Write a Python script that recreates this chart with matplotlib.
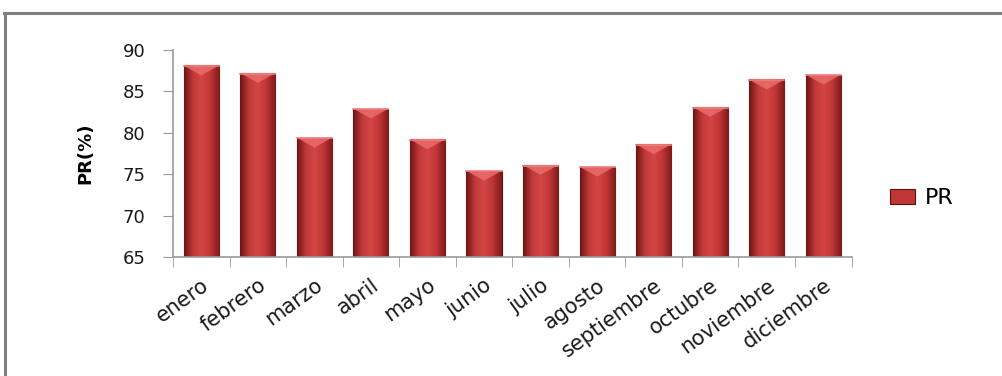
import numpy as np
import matplotlib.pyplot as plt
from matplotlib.lines import Line2D
from matplotlib.colors import LinearSegmentedColormap

# monthly PR values (%)
months = ['enero', 'febrero', 'marzo', 'abril', 'mayo', 'junio',
          'julio', 'agosto', 'septiembre', 'octubre', 'noviembre', 'diciembre']
pr = [88.1, 87.2, 79.4, 82.9, 79.2, 75.4, 76.1, 75.9, 78.6, 83.1, 86.4, 87.0]
yticks = [65, 70, 75, 80, 85, 90]

plt.rcParams['font.family'] = ['DejaVu Sans']

fig = plt.figure(figsize=(10.03, 3.76), dpi=100)
ax = fig.add_axes([0.1725, 0.3165, 0.6765, 0.5515])

x = np.arange(len(months))
bars = ax.bar(x, pr, width=0.62, color='#c03738', edgecolor='#5e1010',
              linewidth=0.8, label='PR', zorder=2)

# cylinder-like shading across each bar
shade = LinearSegmentedColormap.from_list(
    'shade', ['#6e1515', '#c23a3a', '#d44545', '#bf3535', '#7e1a1a'])
grad = np.linspace(0, 1, 64).reshape(1, -1)
for b in bars:
    x0, w, h = b.get_x(), b.get_width(), b.get_height()
    im = ax.imshow(grad, cmap=shade, aspect='auto', zorder=2.5,
                   extent=[x0, x0 + w, 65, h], interpolation='bicubic')
    im.set_clip_path(b)
    # lighter wedge at the top
    ax.fill([x0 + 0.02, x0 + w - 0.02, x0 + w / 2], [h - 0.1, h - 0.1, h - 1.2],
            color='#ea6c6c', alpha=0.85, zorder=3, lw=0)
    ax.plot([x0, x0 + w], [h - 0.08, h - 0.08], color='#f08080', lw=1.2,
            zorder=3)

ax.set_xlim(-0.5, len(months) - 0.5)
ax.set_ylim(65, 90)
ax.set_yticks(yticks)
ax.set_xticks(x)
ax.set_xticks(np.arange(-0.5, len(months)), minor=True)
ax.set_xticklabels(months, rotation=36, ha='right', rotation_mode='anchor',
                   fontsize=15, color='#1a1a1a')
ax.tick_params(axis='x', which='major', length=0, pad=13)
ax.tick_params(axis='x', which='minor', length=7, color='#999999')
ax.tick_params(axis='y', length=7, color='#999999', labelsize=13,
               labelcolor='#1a1a1a', pad=13)

for s in ['top', 'right']:
    ax.spines[s].set_visible(False)
for s in ['left', 'bottom']:
    ax.spines[s].set_color('#999999')
    ax.spines[s].set_linewidth(1.2)

ax.set_ylabel('PR(%)', fontsize=13, fontweight='bold', labelpad=20)

leg = ax.legend(loc='center left', bbox_to_anchor=(1.056, 0.284),
                frameon=False, fontsize=16, borderaxespad=0, borderpad=0,
                handlelength=1.13, handleheight=0.68, handletextpad=0.45)

# outer frame (top and left edges)
fig.add_artist(Line2D([0.004, 1.0], [0.965, 0.965], color='#808080', lw=2.2,
                      transform=fig.transFigure))
fig.add_artist(Line2D([0.005, 0.005], [0.0, 0.965], color='#808080', lw=2.2,
                      transform=fig.transFigure))

fig.savefig('out.png', dpi=100)
